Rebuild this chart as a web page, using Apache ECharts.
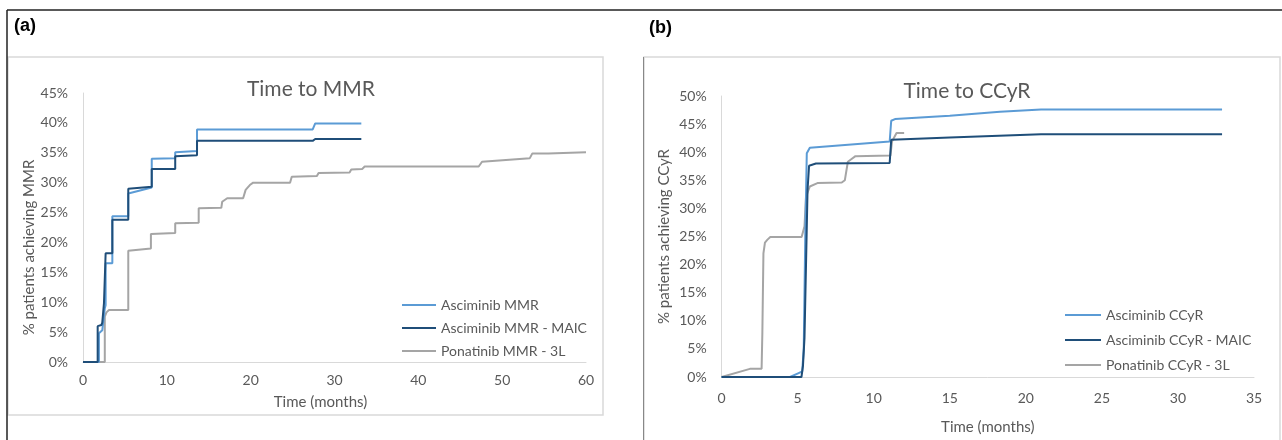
<!DOCTYPE html>
<html>
<head>
<meta charset="utf-8">
<script src="https://cdn.jsdelivr.net/npm/echarts@6/dist/echarts.min.js"></script>
<style>
html,body{margin:0;padding:0;background:#fff;}
#c{width:1282px;height:440px;}
</style>
</head>
<body>
<div id="c"></div>
<script>
// ---------- Panel (a): Time to MMR ----------
const mmrXTicks = [0, 10, 20, 30, 40, 50, 60];
const mmrNames = ['Asciminib MMR', 'Asciminib MMR - MAIC', 'Ponatinib MMR - 3L'];

const mmrAscT = [0, 1.9, 1.9, 2.3, 2.4, 2.6, 2.7, 2.7, 3.5, 3.5, 5.4, 5.4, 8.2, 8.2, 11.0, 11.0, 13.6, 13.6, 27.4, 27.7, 33.2];
const mmrAscV = [0, 0, 4.8, 5.3, 6.5, 9.0, 9.5, 16.5, 16.5, 24.4, 24.4, 28.2, 29.2, 34.0, 34.1, 35.1, 35.3, 38.9, 38.9, 39.9, 39.9];

const mmrMaicT = [0, 1.75, 1.75, 2.2, 2.3, 2.5, 2.6, 2.7, 3.5, 3.5, 5.4, 5.4, 8.2, 8.2, 11.0, 11.0, 13.6, 13.6, 27.4, 27.7, 33.2];
const mmrMaicV = [0, 0, 6.0, 6.2, 6.6, 9.8, 10.0, 18.2, 18.2, 23.8, 23.8, 29.0, 29.3, 32.3, 32.3, 34.4, 34.6, 37.0, 37.0, 37.3, 37.3];

const mmrPonT = [0, 2.6, 2.6, 2.8, 3.1, 5.4, 5.4, 8.1, 8.1, 11.0, 11.0, 13.8, 13.8, 16.5, 16.6, 17.2, 19.1, 19.4, 19.9, 20.3, 24.7, 24.9, 27.9, 28.1, 31.8, 32.0, 33.3, 33.6, 47.2, 47.6, 53.3, 53.6, 55.5, 55.7, 60];
const mmrPonV = [0, 0, 7.6, 8.3, 8.7, 8.7, 18.6, 19.0, 21.4, 21.6, 23.2, 23.3, 25.7, 25.8, 26.8, 27.4, 27.4, 28.8, 29.6, 30.0, 30.0, 31.0, 31.1, 31.6, 31.7, 32.2, 32.3, 32.7, 32.7, 33.5, 34.1, 34.9, 34.9, 35.1, 35.1];

// ---------- Panel (b): Time to CCyR ----------
const ccyrXTicks = [0, 5, 10, 15, 20, 25, 30, 35];
const ccyrNames = ['Asciminib CCyR', 'Asciminib CCyR - MAIC', 'Ponatinib CCyR - 3L'];

const ccyrAscT = [0, 4.5, 5.1, 5.3, 5.4, 5.5, 5.6, 5.8, 11.05, 11.15, 11.4, 15, 18.3, 21.0, 32.9];
const ccyrAscV = [0, 0, 0.75, 1.0, 5, 25, 39.8, 40.8, 41.9, 45.6, 45.9, 46.5, 47.2, 47.6, 47.6];

const ccyrMaicT = [0, 5.25, 5.35, 5.45, 5.55, 5.65, 5.75, 6.2, 11.05, 11.15, 15, 21.0, 32.9];
const ccyrMaicV = [0, 0, 2, 7, 20, 33.3, 37.6, 38.0, 38.1, 42.2, 42.6, 43.2, 43.2];

const ccyrPonT = [0, 1.86, 2.63, 2.68, 2.75, 2.85, 3.0, 3.2, 5.26, 5.45, 5.55, 5.8, 6.3, 7.9, 8.1, 8.3, 8.5, 8.8, 11.1, 11.2, 11.5, 12.0];
const ccyrPonV = [0, 1.45, 1.45, 7.9, 22.0, 23.9, 24.4, 24.9, 24.9, 26.8, 32.1, 33.9, 34.5, 34.6, 35.0, 38.3, 38.7, 39.3, 39.4, 41.9, 43.4, 43.4];

// ---------- build ----------
const zip = (t, v) => t.map((x, i) => [x, v[i]]);
const colors = ['#5B9BD5', '#1F4E79', '#A5A5A5'];
const txt = '#595959';
const FONT = 'Lato, "Open Sans", sans-serif';

function mkSeries(name, t, v, color, gi) {
  return {
    name: name, type: 'line', xAxisIndex: gi, yAxisIndex: gi,
    data: zip(t, v), symbol: 'none', showSymbol: false,
    lineStyle: { color: color, width: 2 }, itemStyle: { color: color },
    animation: false, z: 3
  };
}

function mkX(gi, max, interval, ticks, margin, gap, pad) {
  return {
    type: 'value', gridIndex: gi, min: 0, max: max, interval: interval,
    axisLine: { show: true, lineStyle: { color: '#D9D9D9', width: 1 } },
    axisTick: { show: false }, splitLine: { show: false },
    axisLabel: { color: txt, fontSize: 14, fontFamily: FONT, margin: margin,
      formatter: v => (ticks.indexOf(v) >= 0 ? String(v) : '') },
    name: 'Time (months)', nameLocation: 'middle', nameGap: gap,
    nameTextStyle: { color: txt, fontSize: 15, fontFamily: FONT, padding: pad }
  };
}
function mkY(gi, max, name, gap, pad) {
  return {
    type: 'value', gridIndex: gi, min: 0, max: max, interval: 5,
    axisLine: { show: true, lineStyle: { color: '#D9D9D9', width: 1 } },
    axisTick: { show: false }, splitLine: { show: false },
    axisLabel: { color: txt, fontSize: 14, fontFamily: FONT, margin: 15, formatter: '{value}%' },
    name: name, nameLocation: 'middle', nameGap: gap,
    nameTextStyle: { color: txt, fontSize: 15, fontFamily: FONT, padding: pad }
  };
}

const option = {
  backgroundColor: '#fff',
  animation: false,
  title: [
    { text: '(a)', left: 9, top: 12, textStyle: { color: '#000', fontSize: 18, fontWeight: 'bold', fontFamily: 'Liberation Sans, Arial, sans-serif' } },
    { text: '(b)', left: 644, top: 14, textStyle: { color: '#000', fontSize: 18, fontWeight: 'bold', fontFamily: 'Liberation Sans, Arial, sans-serif' } },
    { text: 'Time to MMR', left: 306, top: 74, textAlign: 'center', textStyle: { color: txt, fontSize: 21, fontWeight: 'normal', fontFamily: FONT } },
    { text: 'Time to CCyR', left: 962, top: 76, textAlign: 'center', textStyle: { color: txt, fontSize: 21, fontWeight: 'normal', fontFamily: FONT } }
  ],
  legend: [
    { data: mmrNames, orient: 'vertical', left: 397, top: 293, itemWidth: 34, itemHeight: 2, icon: 'rect',
      itemGap: 9, textStyle: { color: txt, fontSize: 14, fontFamily: FONT } },
    { data: ccyrNames, orient: 'vertical', left: 1060, top: 303, itemWidth: 36, itemHeight: 2, icon: 'rect',
      itemGap: 11, textStyle: { color: txt, fontSize: 14, fontFamily: FONT } }
  ],
  grid: [
    { left: 83, right: 1282 - 586, top: 93, bottom: 440 - 362, containLabel: false },
    { left: 721.6, right: 1282 - 1254, top: 96, bottom: 440 - 377.5, containLabel: false }
  ],
  xAxis: [ mkX(0, 60, 10, mmrXTicks, 11, 33, [0, 28, 0, 0]), mkX(1, 35, 5, ccyrXTicks, 14, 43, 0) ],
  yAxis: [ mkY(0, 45, '% patients achieving MMR', 46, [0, 40, 0, 0]), mkY(1, 50, '% patients achieving CCyR', 50, 0) ],
  series: [
    mkSeries(mmrNames[2], mmrPonT, mmrPonV, colors[2], 0),
    mkSeries(mmrNames[0], mmrAscT, mmrAscV, colors[0], 0),
    mkSeries(mmrNames[1], mmrMaicT, mmrMaicV, colors[1], 0),
    mkSeries(ccyrNames[2], ccyrPonT, ccyrPonV, colors[2], 1),
    mkSeries(ccyrNames[0], ccyrAscT, ccyrAscV, colors[0], 1),
    mkSeries(ccyrNames[1], ccyrMaicT, ccyrMaicV, colors[1], 1)
  ],
  graphic: [
    { type: 'rect', shape: { x: 8, y: 57, width: 595, height: 358 }, style: { fill: 'none', stroke: '#D9D9D9', lineWidth: 1.5 }, z: -1, silent: true },
    { type: 'rect', shape: { x: 644, y: 57, width: 636, height: 400 }, style: { fill: 'none', stroke: '#D9D9D9', lineWidth: 1.5 }, z: -1, silent: true },
    { type: 'line', shape: { x1: 7, y1: 10, x2: 1282, y2: 10 }, style: { stroke: '#222', lineWidth: 1.5 }, silent: true },
    { type: 'line', shape: { x1: 7, y1: 10, x2: 7, y2: 440 }, style: { stroke: '#222', lineWidth: 1.5 }, silent: true },
    { type: 'line', shape: { x1: 643.5, y1: 57, x2: 643.5, y2: 440 }, style: { stroke: '#888', lineWidth: 1 }, silent: true }
  ]
};

const chart = echarts.init(document.getElementById('c'), null, { renderer: 'canvas' });
chart.setOption(option);
</script>
</body>
</html>
